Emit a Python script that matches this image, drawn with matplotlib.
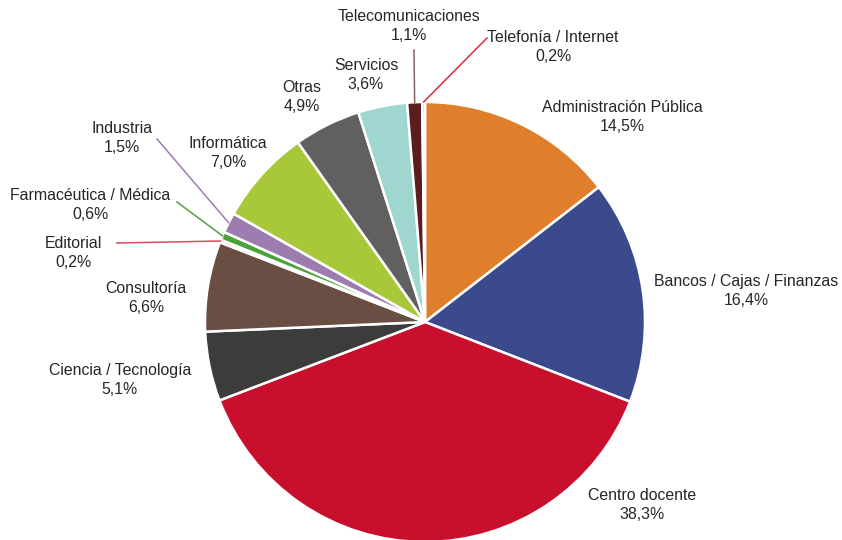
import numpy as np
from matplotlib import pyplot as plt

plt.rcParams['font.family'] = ['Liberation Sans', 'DejaVu Sans']

sectors = ['Administración Pública', 'Bancos / Cajas / Finanzas', 'Centro docente',
           'Ciencia / Tecnología', 'Consultoría', 'Editorial', 'Farmacéutica / Médica',
           'Industria', 'Informática', 'Otras', 'Servicios', 'Telecomunicaciones',
           'Telefonía / Internet']
shares = [14.5, 16.4, 38.3, 5.1, 6.6, 0.2, 0.6, 1.5, 7.0, 4.9, 3.6, 1.1, 0.2]
colors = ['#e07f2b', '#3a4a8c', '#c8102e', '#3c3d3b', '#6a4e44', '#e04a5e', '#4ca23a',
          '#9d7db0', '#a8c83a', '#606060', '#a0d6d0', '#5a1e1e', '#e02a3a']
leader_colors = {5: '#e04a5e', 6: '#4ca23a', 7: '#9d7db0', 11: '#8b6060', 12: '#e02a3a'}

# label centres and leader starts, in pixels of the 842x540 picture
label_px = [(622, 117), (746, 291), (642, 505), (120, 380), (146, 298), (73, 253),
            (90, 205), (122, 138), (228, 153), (302, 97), (366, 75), (409, 26), (553, 47)]
leader_px = {5: (117, 243), 6: (177, 202), 7: (157, 139), 11: (414, 50), 12: (487, 38)}

cx, cy, rad = 425, 322, 220


def to_data(p):
    return (p[0] - cx) / rad, (cy - p[1]) / rad


fig = plt.figure(figsize=(8.42, 5.4), dpi=100)
ax = fig.add_axes([0, 0, 1, 1])

ax.pie(shares, colors=colors, startangle=90, counterclock=False, radius=1,
       wedgeprops=dict(edgecolor='white', linewidth=1.8))

ax.set_aspect('auto')
ax.set_xlim(-cx / rad, (842 - cx) / rad)
ax.set_ylim(-(540 - cy) / rad, cy / rad)
ax.axis('off')

cum = np.cumsum([0] + shares[:-1])
for i, (name, v) in enumerate(zip(sectors, shares)):
    tx, ty = to_data(label_px[i])
    ax.text(tx, ty, f'{name}\n{v:.1f}%'.replace('.', ','), ha='center', va='center',
            fontsize=11.4, color='#262626', linespacing=1.3)
    if i in leader_px:
        th = np.deg2rad(90 - (cum[i] + v / 2) * 3.6)
        sx, sy = to_data(leader_px[i])
        ax.plot([sx, np.cos(th)], [sy, np.sin(th)], color=leader_colors[i], lw=1.1)

fig.savefig('out.png', dpi=100)
